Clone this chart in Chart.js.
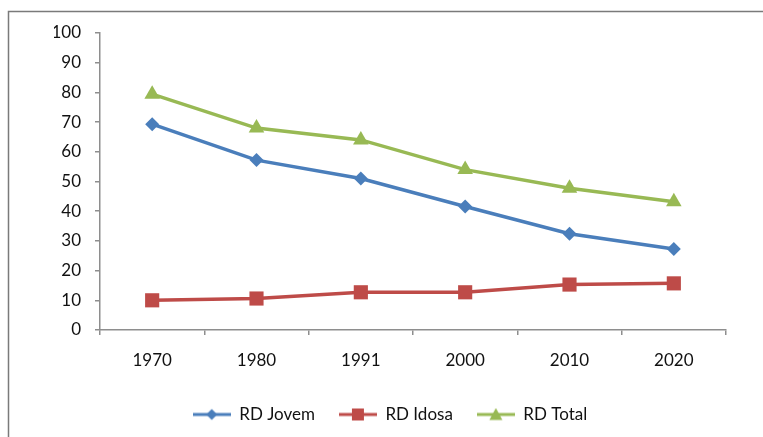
<!DOCTYPE html>
<html>
<head>
<meta charset="utf-8">
<script src="https://cdn.jsdelivr.net/npm/chart.js@4/dist/chart.umd.min.js"></script>
<style>
html,body{margin:0;padding:0;background:#fff;}
#wrap{width:763px;height:437px;position:relative;}
</style>
</head>
<body>
<div id="wrap"><canvas id="c" width="763" height="437"></canvas></div>
<script>
const categories = ['1970', '1980', '1991', '2000', '2010', '2020'];
const rdJovem = [69.3, 57.2, 51.0, 41.6, 32.4, 27.3];
const rdIdosa = [10.0, 10.6, 12.7, 12.7, 15.3, 15.7];
const rdTotal = [79.4, 68.0, 64.0, 54.0, 47.7, 43.2];
const yTicks = [0, 10, 20, 30, 40, 50, 60, 70, 80, 90, 100];

const BLUE = '#4A7EBB', RED = '#BE4B48', GREEN = '#98B954';
const FONT = 'Lato, "Open Sans", sans-serif';
const TEXT = '#111';

function legendImg(color, style) {
  const cv = document.createElement('canvas');
  cv.width = 38; cv.height = 14;
  const ctx = cv.getContext('2d');
  ctx.strokeStyle = color; ctx.lineWidth = 3;
  ctx.beginPath(); ctx.moveTo(0, 7); ctx.lineTo(38, 7); ctx.stroke();
  ctx.fillStyle = color;
  ctx.beginPath();
  if (style === 'diamond') {
    ctx.moveTo(19, 1.5); ctx.lineTo(24.5, 7); ctx.lineTo(19, 12.5); ctx.lineTo(13.5, 7);
  } else if (style === 'square') {
    ctx.rect(13, 1, 12, 12);
  } else {
    ctx.moveTo(19, 0.5); ctx.lineTo(25.5, 12.5); ctx.lineTo(12.5, 12.5);
  }
  ctx.closePath(); ctx.fill();
  return cv;
}

const borderPlugin = {
  id: 'outerBorder',
  beforeDraw(chart) {
    const ctx = chart.ctx;
    ctx.save();
    ctx.fillStyle = '#fff';
    ctx.fillRect(0, 0, chart.width, chart.height);
    ctx.strokeStyle = '#7a7a7a';
    ctx.lineWidth = 1.5;
    ctx.strokeRect(8.5, 11.5, 800, 500);
    ctx.restore();
  }
};

new Chart(document.getElementById('c'), {
  type: 'line',
  data: {
    labels: categories,
    datasets: [
      { label: 'RD Jovem', data: rdJovem, borderColor: BLUE, backgroundColor: BLUE,
        borderWidth: 3.5, pointStyle: 'rectRot', pointRadius: 7, pointBorderWidth: 0,
        legendImage: legendImg(BLUE, 'diamond') },
      { label: 'RD Idosa', data: rdIdosa, borderColor: RED, backgroundColor: RED,
        borderWidth: 3.5, pointStyle: 'rect', pointRadius: 10, pointBorderWidth: 0,
        legendImage: legendImg(RED, 'square') },
      { label: 'RD Total', data: rdTotal, borderColor: GREEN, backgroundColor: GREEN,
        borderWidth: 3.5, pointStyle: 'triangle', pointRadius: 9, pointBorderWidth: 0,
        legendImage: legendImg(GREEN, 'triangle') }
    ]
  },
  options: {
    responsive: false,
    animation: false,
    devicePixelRatio: 1,
    layout: { padding: { left: 54, right: 37, top: 33, bottom: 4 } },
    plugins: {
      tooltip: { enabled: false },
      legend: {
        position: 'bottom',
        labels: {
          usePointStyle: true,
          pointStyleWidth: 38,
          padding: 24,
          color: TEXT,
          font: { family: FONT, size: 17 },
          generateLabels(chart) {
            return chart.data.datasets.map((ds, i) => ({
              text: ds.label,
              pointStyle: ds.legendImage,
              fillStyle: ds.borderColor,
              strokeStyle: ds.borderColor,
              lineWidth: 0,
              hidden: false,
              datasetIndex: i,
              fontColor: TEXT
            }));
          }
        }
      }
    },
    scales: {
      x: {
        offset: true,
        grid: { display: true, drawOnChartArea: false, drawTicks: true, tickLength: 5, offset: true, color: '#8e8e8e', lineWidth: 1.5 },
        border: { display: true, color: '#8e8e8e', width: 1.5 },
        ticks: { color: TEXT, font: { family: FONT, size: 17 }, padding: 15, maxRotation: 0 },
        afterFit(scale) { scale.height = 52; }
      },
      y: {
        min: 0, max: 100,
        afterBuildTicks(scale) { scale.ticks = yTicks.map(v => ({ value: v })); },
        grid: { display: true, drawOnChartArea: false, drawTicks: true, tickLength: 5, color: '#8e8e8e', lineWidth: 1.5 },
        border: { display: true, color: '#8e8e8e', width: 1.5 },
        ticks: { color: TEXT, font: { family: FONT, size: 17 }, padding: 14 },
        afterFit(scale) { scale.width = 46; }
      }
    }
  },
  plugins: [borderPlugin]
});
</script>
</body>
</html>
